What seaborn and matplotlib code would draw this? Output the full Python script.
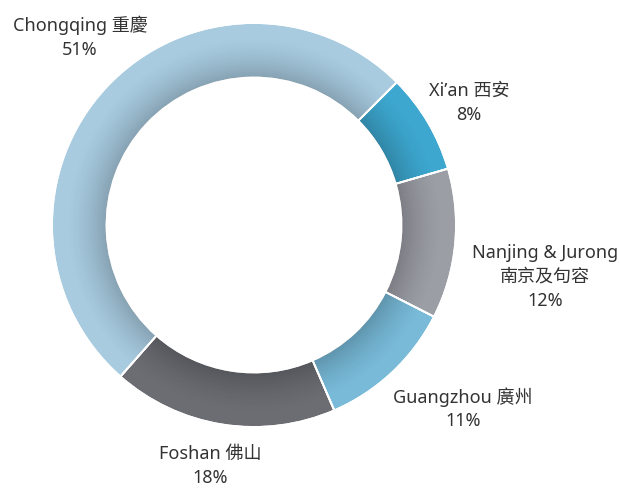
import numpy as np
import matplotlib
matplotlib.use("Agg")
import matplotlib.pyplot as plt
import seaborn as sns

# data, clockwise from the upper right
cities = ["Xi\u2019an 西安", "Nanjing & Jurong\n南京及句容", "Guangzhou 廣州", "Foshan 佛山", "Chongqing 重慶"]
shares = [8, 12, 11, 18, 51]
colors = ["#3da7cf", "#9c9ea6", "#78bad8", "#6b6d73", "#a8cbe0"]

# label anchor points in pixels (x centre, y centre of first line, from top-left)
label_px = [(469, 90), (545, 252), (463, 395), (210, 453), (80, 24)]

sns.set_theme(style="white")
plt.rcParams["font.family"] = ["Noto Sans", "Noto Sans CJK TC", "DejaVu Sans"]

W, H = 620, 488
cx, cy, R = 254, 225, 202   # pie centre / radius in pixels

fig = plt.figure(figsize=(W / 100, H / 100), dpi=100)
ax = fig.add_axes([0, 0, 1, 1])

ax.pie(shares, colors=colors, startangle=45, counterclock=False, radius=1.0,
       wedgeprops=dict(width=0.27, edgecolor="white", linewidth=1.3))

# soft inner shadow on the ring
n = 20
r0, r1 = 0.73, 0.93
for i in range(n):
    r = r0 + (r1 - r0) * (i + 1) / n
    a = 0.2 * (1 - i / n) ** 1.6
    ax.pie([1], colors=["black"], radius=r,
           wedgeprops=dict(width=(r1 - r0) / n, alpha=a, linewidth=0))

# redraw white separators on top
ax.pie(shares, colors=["none"] * len(shares), startangle=45, counterclock=False, radius=1.0,
       wedgeprops=dict(width=0.27, edgecolor="white", linewidth=1.3, fill=False))

ax.set_xlim(-cx / R, (W - cx) / R)
ax.set_ylim((cy - H) / R, cy / R)
ax.set_aspect("equal")
ax.axis("off")

for name, val, (px, py) in zip(cities, shares, label_px):
    x = (px - cx) / R
    y = (cy - (py - 8)) / R
    ax.text(x, y, f"{name}\n{val}%", ha="center", va="top", fontsize=13,
            color="#333333", linespacing=1.42, transform=ax.transData)

fig.savefig("out.png", dpi=100, facecolor="white")
